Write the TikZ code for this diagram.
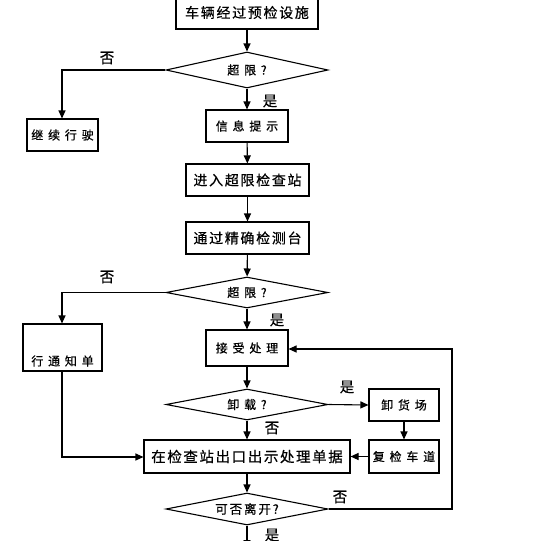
\documentclass[tikz,border=0pt]{standalone}
\usepackage{fontspec}
\newfontfamily\cjk[FakeBold=0.6]{Noto Sans CJK SC}
\usetikzlibrary{arrows.meta,shapes.geometric}
\tikzset{
  box/.style={draw,line width=1.1pt,inner sep=0pt,align=center},
  dia/.style={draw,line width=1.1pt,diamond,aspect=5,inner sep=0pt,minimum width=162pt},
  big/.style={font=\cjk\fontsize{14}{16}\selectfont\addfontfeature{LetterSpace=12}},
  sml/.style={font=\cjk\fontsize{12}{14}\selectfont\addfontfeature{LetterSpace=40}},
  mid/.style={font=\cjk\fontsize{12.5}{14}\selectfont\addfontfeature{LetterSpace=15}},
  lbl/.style={font=\cjk\fontsize{14.5}{16}\selectfont,inner sep=0pt},
  arr/.style={line width=1.1pt,-{Triangle[length=8pt,width=7pt]}}
}
\begin{document}
\begin{tikzpicture}[x=1pt,y=-1pt]
\useasboundingbox[fill=white] (0,0) rectangle (537,541);
\node[box,big,minimum width=142pt,minimum height=33pt] (b1) at (247,12.5) {车辆经过预检设施};
\node[dia,sml,minimum height=36pt] (d1) at (247,70) {超限?};
\node[box,sml,minimum width=71pt,minimum height=32pt] (keep) at (62.5,135) {继续行驶};
\node[box,sml,minimum width=82pt,minimum height=32pt] (info) at (247,126) {信息提示};
\node[box,big,minimum width=123pt,minimum height=32pt] (enter) at (247.5,180) {进入超限检查站};
\node[box,big,minimum width=123pt,minimum height=32pt] (pass) at (247.5,238) {通过精确检测台};
\node[dia,sml,minimum height=31pt] (d2) at (247,292.5) {超限?};
\node[box,minimum width=79pt,minimum height=47pt] (notice) at (62.5,347.5) {};
\node[sml,inner sep=0pt] (noticetxt) at (62.5,361) {行通知单};
\node[box,sml,minimum width=82pt,minimum height=36pt] (accept) at (247,348) {接受处理};
\node[dia,sml,minimum height=31pt] (d3) at (247,404.5) {卸载?};
\node[box,sml,minimum width=70pt,minimum height=32pt] (unload) at (404,405) {卸货场};
\node[box,big,font=\cjk\fontsize{14.5}{16}\selectfont\addfontfeature{LetterSpace=11},minimum width=206pt,minimum height=33pt] (exit) at (247,456.5) {在检查站出口出示处理单据};
\node[box,sml,minimum width=70pt,minimum height=33pt] (recheck) at (404,456.5) {复检车道};
\node[dia,mid,minimum height=32pt] (d4) at (247,509) {可否离开?};
\coordinate (endp) at (247,548);
\coordinate (c1) at (62,70);
\coordinate (c2) at (62,292.5);
\coordinate (c3) at (62,457);
\coordinate (c4) at (452,509);
\coordinate (c5) at (452,349);

\draw[arr] (b1) -- (d1);
\draw[arr] (d1.west) -- (c1) -- (keep.north -| c1);
\draw[arr] (d1) -- (info);
\draw[arr] (info) -- (enter);
\draw[arr] (enter) -- (pass);
\draw[arr] (pass) -- (d2);
\draw[arr] (d2.west) -- (c2) -- (notice.north -| c2);
\draw[arr] (d2) -- (accept);
\draw[arr] (notice.south -| c3) -- (c3) -- (exit.west |- c3);
\draw[arr] (accept) -- (d3);
\draw[arr] (d3.east) -- (unload.west);
\draw[arr] (d3) -- (exit);
\draw[arr] (unload) -- (recheck);
\draw[arr] (recheck) -- (exit);
\draw[arr] (exit) -- (d4);
\draw[arr] (d4.east) -- (c4) -- (c5) -- (accept.east |- c5);
\draw[arr] (d4) -- (endp);

\node[lbl] (n1) at (107,58) {否};
\node[lbl] (y1) at (270,101) {是};
\node[lbl] (n2) at (107,277) {否};
\node[lbl] (y2) at (277,320) {是};
\node[lbl] (y3) at (347,387) {是};
\node[lbl] (n3) at (272,428) {否};
\node[lbl] (n4) at (340,497) {否};
\node[lbl] (y4) at (272,535) {是};
\end{tikzpicture}
\end{document}
